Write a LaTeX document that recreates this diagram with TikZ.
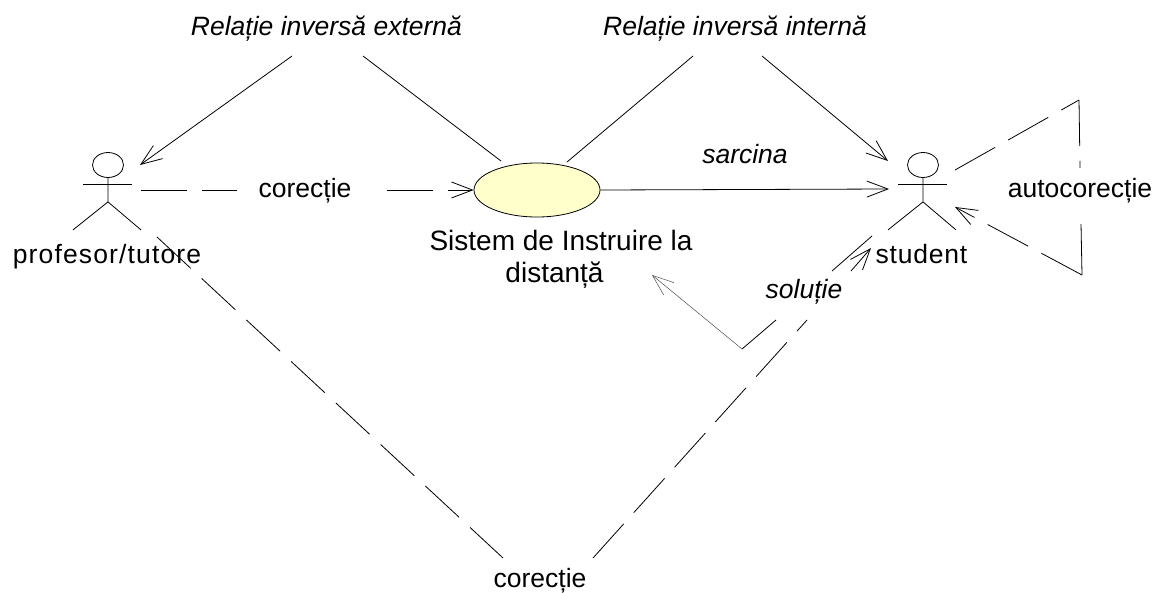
\documentclass[tikz,border=0pt]{standalone}
\usepackage{fontspec}
\setmainfont{Liberation Sans}
\usetikzlibrary{arrows.meta,shapes.geometric}

\definecolor{usecasefill}{HTML}{FFFFCC}

\tikzset{
  label text/.style = {font=\fontsize{26.5}{32}\selectfont, inner sep=0pt, anchor=base},
  rel text/.style   = {label text, font=\fontsize{26.5}{32}\selectfont\itshape},
  actorhead/.style  = {draw, ellipse, inner sep=0pt, minimum width=31pt, minimum height=25pt},
  usecase/.style    = {draw, ellipse, inner sep=0pt, minimum width=126pt, minimum height=54pt, fill=usecasefill},
  longdash/.style   = {dash pattern=on 46pt off 15pt},
  thin ret/.style   = {line width=0.5pt, black!70}
}

\newcommand{\actor}[2]{
  \node[actorhead] (#2) at (#1) {};
  \draw (#2.south) -- ++(0,24) coordinate (#2hip) -- ++(-35,28);
  \draw (#2hip) -- ++(33,28);
  \draw (#2.center) ++(-25,19) -- ++(49,0);
}

\begin{document}
\begin{tikzpicture}[x=1pt, y=-1pt, line width=0.8pt,
    >={Straight Barb[length=21pt,width=16pt]}]
  \useasboundingbox (0,0) rectangle (1155,592);

  %% actors and the use case
  \actor{108,165}{profesor}
  \actor{923,165}{student}
  \node[usecase] (sistem) at (537,190) {};

  %% labels
  \node[label text, font=\fontsize{26.5}{32}\selectfont\addfontfeature{LetterSpace=4.3}] (profesorlabel) at (107,263) {profesor/tutore};
  \node[label text, font=\fontsize{26.5}{32}\selectfont\addfontfeature{LetterSpace=3}] (studentlabel) at (921.5,263) {student};
  \node[label text, font=\fontsize{28}{32}\selectfont, align=center] (sistemlabel) at (561,282) {Sistem de Instruire la\\distanță\hspace*{13pt}};
  \node[rel text] (externa) at (326.5,35) {Relație inversă externă};
  \node[rel text] (interna) at (735,35) {Relație inversă internă};
  \node[rel text] (sarcina) at (745,163) {sarcina};
  \node[rel text] (solutie) at (804,298) {soluție};
  \node[label text] (corectiesus) at (305,197) {corecție};
  \node[label text] (corectiejos) at (540,587) {corecție};
  \node[label text] (autocorectie) at (1080,197) {autocorecție};

  %% free ends and corners of the connectors
  \coordinate (profmana) at (141,190);
  \coordinate (corstanga) at (237,190);
  \coordinate (cordreapta) at (387,190);
  \coordinate (proftinta) at (140,165);
  \coordinate (extstanga) at (292,56);
  \coordinate (extdreapta) at (363,56);
  \coordinate (sistemst) at (501,161);
  \coordinate (intstanga) at (693,56);
  \coordinate (intdreapta) at (762,56);
  \coordinate (sistemdr) at (567,162);
  \coordinate (studsus) at (888,161);
  \coordinate (studmana) at (889,189);
  \coordinate (solstart) at (872,236);
  \coordinate (solsus) at (832,271);
  \coordinate (soljos) at (776,320);
  \coordinate (solcolt) at (742,349);
  \coordinate (soltinta) at (652,275);
  \coordinate (profpicior) at (157,237);
  \coordinate (josstanga) at (503,558);
  \coordinate (josdreapta) at (593,558);
  \coordinate (josrupt) at (807,320);
  \coordinate (josreluat) at (851,271);
  \coordinate (studtinta) at (871,248);
  \coordinate (autostart) at (955,170);
  \coordinate (autosus) at (1079,100);
  \coordinate (autotext) at (1080,168);
  \coordinate (autotextjos) at (1081,224);
  \coordinate (autojos) at (1082,275);
  \coordinate (autotinta) at (955,207);

  %% inverse relations
  \draw[->] (extstanga) -- (proftinta);
  \draw (extdreapta) -- (sistemst);
  \draw (intstanga) -- (sistemdr);
  \draw[->] (intdreapta) -- (studsus);

  %% task and first correction
  \draw[->] (sistem.east) -- (studmana);
  \draw[longdash] (profmana) -- (corstanga);
  \draw[longdash,->] (cordreapta) -- (sistem.west);

  %% solution
  \draw (solstart) -- (solsus);
  \draw (soljos) -- (solcolt);
  \draw[thin ret,->] (solcolt) -- (soltinta);

  %% lower correction
  \draw[longdash] (profpicior) -- (josstanga);
  \draw[longdash] (josdreapta) -- (josrupt);
  \draw[->] (josreluat) -- (studtinta);

  %% self correction
  \draw[longdash] (autostart) -- (autosus);
  \draw[longdash] (autosus) -- (autotext);
  \draw (autotextjos) -- (autojos);
  \draw[longdash,->] (autojos) -- (autotinta);
\end{tikzpicture}
\end{document}
